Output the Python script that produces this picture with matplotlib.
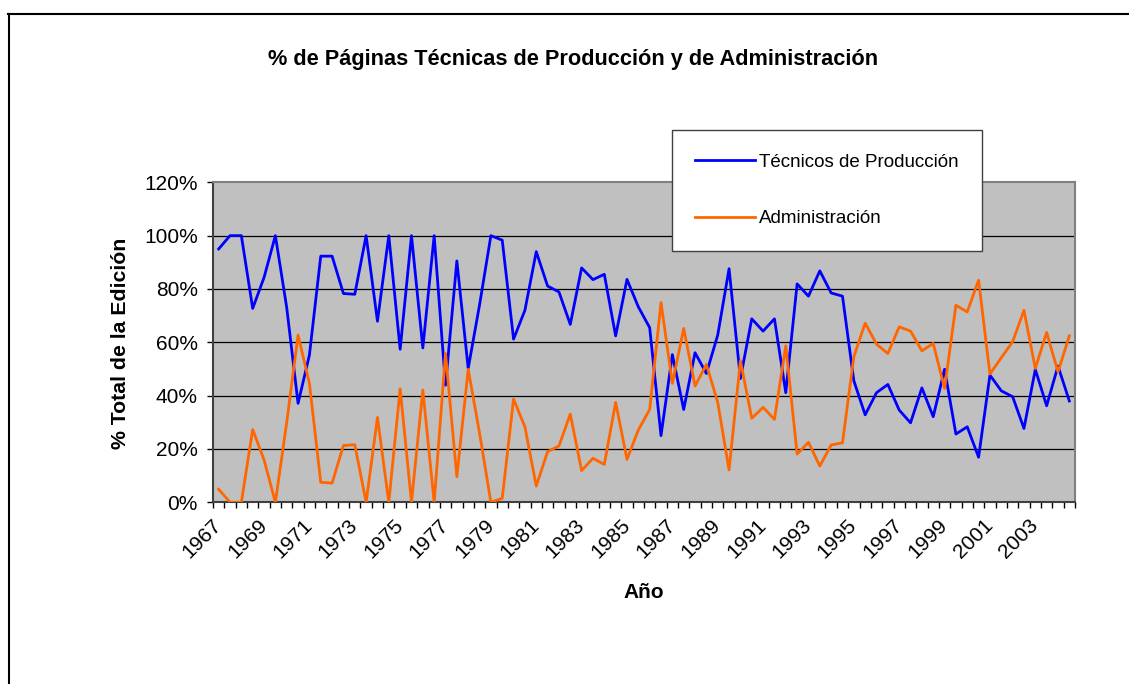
import numpy as np
import matplotlib
matplotlib.use("Agg")
import matplotlib.pyplot as plt
from matplotlib.lines import Line2D

plt.rcParams['font.family'] = ['Liberation Sans', 'DejaVu Sans']

# --- data: two issues per year, 1967-2004 ---------------------------------
anios = [a for a in range(1967, 2005) for _ in (1, 2)]

tecnicos = [95.0, 100, 100, 72.7, 84.3, 100, 73.0, 37.1, 55.2, 92.3,
            92.3, 78.3, 78.0, 100, 67.9, 100, 57.4, 100, 57.9, 100,
            43.9, 90.5, 50.2, 74.0, 100, 98.3, 61.2, 72.0, 94.0, 81.1,
            78.9, 66.7, 87.9, 83.5, 85.5, 62.4, 83.6, 73.3, 65.5, 25.0,
            55.4, 34.8, 56.1, 48.3, 62.7, 87.6, 46.4, 68.8, 64.2, 68.8,
            41.1, 81.9, 77.3, 86.8, 78.5, 77.3, 45.6, 32.8, 41.1, 44.2,
            34.6, 29.8, 42.9, 32.1, 49.9, 25.6, 28.3, 16.9, 47.7, 41.8,
            39.6, 27.7, 49.8, 36.2, 51.1, 38.0]

administracion = [4.9, 0, 0, 27.3, 15.9, 0, 30.0, 62.7, 44.6, 7.5,
                  7.2, 21.3, 21.6, 0, 31.8, 0, 42.6, 0, 42.1, 0,
                  55.8, 9.6, 49.9, 26.0, 0, 1.5, 38.7, 28.3, 6.1, 19.0,
                  21.1, 33.1, 11.9, 16.5, 14.2, 37.5, 16.1, 27.1, 34.8, 74.9,
                  44.6, 65.2, 43.6, 51.7, 37.5, 12.1, 53.1, 31.5, 35.6, 31.1,
                  58.7, 18.1, 22.5, 13.6, 21.5, 22.3, 54.6, 67.2, 59.3, 55.8,
                  65.8, 64.2, 56.8, 59.6, 42.7, 73.9, 71.4, 83.3, 48.1, 54.2,
                  60.2, 72.0, 50.2, 63.7, 48.9, 62.4]

yticks = [0, 20, 40, 60, 80, 100, 120]

# --- figure ---------------------------------------------------------------
W, H = 1129, 684
fig = plt.figure(figsize=(W / 100, H / 100), dpi=100)
fig.patch.set_facecolor('white')

ax = fig.add_axes([213 / W, 1 - 502.3 / H, (1075 - 213) / W, (502.3 - 182.3) / H])
ax.set_facecolor('#C0C0C0')

x = np.arange(len(anios))
ax.plot(x, tecnicos, color='#0000FF', lw=2.0, label='Técnicos de Producción', zorder=3)
ax.plot(x, administracion, color='#FF6600', lw=2.0, label='Administración', zorder=3)

ax.set_xlim(-0.5, len(anios) - 0.5)
ax.set_ylim(0, 120)

ax.set_yticks(yticks)
ax.set_yticklabels([f'{v}%' for v in yticks], fontsize=15)
for v in yticks[1:-1]:
    ax.axhline(v, color='black', lw=0.9, zorder=1)

lab_pos = x[::4]
ax.set_xticks(lab_pos)
ax.set_xticklabels([str(anios[i]) for i in lab_pos], rotation=45, ha='right',
                   va='center', rotation_mode='anchor', fontsize=15)
ax.set_xticks(np.arange(len(anios) + 1) - 0.5, minor=True)
ax.tick_params(axis='x', which='major', length=0, pad=14)
ax.tick_params(axis='x', which='minor', length=4, width=1, direction='out')
ax.tick_params(axis='y', length=4, width=1, direction='out', pad=7)

for side in ('top', 'right'):
    ax.spines[side].set_color('#808080')
    ax.spines[side].set_linewidth(1.5)
for side in ('left', 'bottom'):
    ax.spines[side].set_color('#404040')
    ax.spines[side].set_linewidth(1.5)

# --- text -----------------------------------------------------------------
fig.text(573 / W, 1 - 60 / H, '% de Páginas Técnicas de Producción y de Administración',
         ha='center', va='center', fontsize=15.7, fontweight='bold')
fig.text(121 / W, 1 - 343 / H, '% Total de la Edición', rotation=90,
         ha='center', va='center', fontsize=15.3, fontweight='bold')
fig.text(644 / W, 1 - 593 / H, 'Año', ha='center', va='center',
         fontsize=15, fontweight='bold')

leg = fig.legend(loc='upper left', bbox_to_anchor=(672 / W, 1 - 130 / H),
                 frameon=True, fancybox=False, edgecolor='#404040',
                 facecolor='white', framealpha=1.0,
                 fontsize=13.5, handlelength=3.2, handletextpad=0.2,
                 labelspacing=2.1, borderpad=1.25, borderaxespad=0)
leg.get_frame().set_linewidth(1.0)

# outer chart border (top and left only visible)
fig.add_artist(Line2D([8 / W, 1], [1 - 13.5 / H] * 2, color='black', lw=1.5))
fig.add_artist(Line2D([9 / W] * 2, [0, 1 - 13.5 / H], color='black', lw=1.5))

fig.savefig('out.png', dpi=100)
